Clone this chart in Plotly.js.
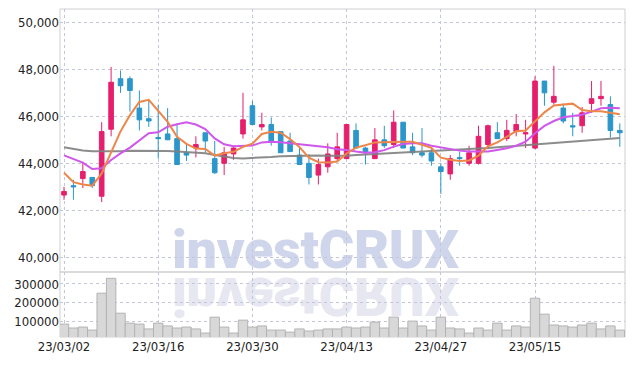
<!DOCTYPE html>
<html>
<head>
<meta charset="utf-8">
<script src="https://cdn.plot.ly/plotly-3.0.1.min.js"></script>
<style>
html,body{margin:0;padding:0;background:#fff;}
#wrap{position:relative;width:634px;height:366px;overflow:hidden;}
#chart{position:absolute;left:0;top:0;width:634px;height:366px;}
.wm{position:absolute;left:172px;font-family:Roboto,'Open Sans',sans-serif;font-weight:900;font-size:54px;line-height:54px;white-space:nowrap;letter-spacing:-0.3px;}
#wm1{top:223px;color:#cfd5ea;}
#wm2{top:223px;color:#e6e7f0;transform:scaleY(-1);transform-origin:0 50px;}
</style>
</head>
<body>
<div id="wrap">
<div class="wm" id="wm1">investCRUX</div>
<div class="wm" id="wm2">investCRUX</div>
<div id="chart"></div>
</div>
<script>
const dates = ["23/03/02","23/03/03","23/03/06","23/03/07","23/03/08","23/03/09","23/03/10","23/03/13","23/03/14","23/03/15",
"23/03/16","23/03/17","23/03/20","23/03/21","23/03/22","23/03/23","23/03/24","23/03/27","23/03/28","23/03/29",
"23/03/30","23/03/31","23/04/03","23/04/04","23/04/05","23/04/06","23/04/07","23/04/10","23/04/11","23/04/12",
"23/04/13","23/04/14","23/04/17","23/04/18","23/04/19","23/04/20","23/04/21","23/04/24","23/04/25","23/04/26",
"23/04/27","23/04/28","23/05/02","23/05/03","23/05/04","23/05/08","23/05/09","23/05/10","23/05/11","23/05/12",
"23/05/15","23/05/16","23/05/17","23/05/18","23/05/19","23/05/22","23/05/23","23/05/24","23/05/25","23/05/26"];

const openP = [42650,43050,43350,43400,42600,45450,47600,47600,46350,45900,
45100,45250,45050,44450,44650,45300,44200,44000,44400,45250,
46450,45550,45650,45350,44950,44350,44000,43500,43850,44200,
44200,45400,44650,44200,45000,44800,45750,44700,44450,44450,
43850,43550,44250,44000,44000,44800,45300,45050,45350,45250,
44650,47500,46600,46350,45600,45600,46550,46750,46500,45400];
const highP = [43000,43300,44050,43400,45750,48100,47950,47700,47100,46650,
46500,46350,45700,44800,45150,45300,44950,44700,44750,47000,
46650,46150,45950,45350,45300,44700,44400,44200,44850,45300,
45650,45700,44700,45500,45600,46250,45750,45300,45500,44650,
44000,44350,44500,44750,45600,45650,45750,45850,46100,45850,
47700,47500,48150,46550,46150,46400,47500,47500,46850,45700];
const lowP = [42450,42450,42950,42950,42350,45150,47000,46200,45400,45550,
44200,45000,43950,44100,44250,44450,43550,43500,44150,45050,
45650,45400,44750,44450,44500,43950,43100,43100,43600,44050,
44200,44650,43950,44200,44650,44650,44650,44350,44250,43900,
42700,43300,43900,43900,43950,44600,45050,44950,45150,44650,
44600,46450,46500,45700,45150,45300,46150,46450,45100,44700];
const closeP = [42800,43000,43650,43050,45350,47450,47300,47100,45850,45800,
45050,45000,43950,44350,44800,44950,43600,44450,44650,45850,
45650,45650,44900,44450,44500,43950,43400,43950,44400,44700,
45650,44650,44450,45000,44750,45750,44650,44450,44350,44100,
43650,44200,44200,44450,45150,45600,45050,45400,45650,45300,
47500,47000,46850,45800,45550,46150,46750,46850,45400,45300];
const volume = [86000,65000,70000,54000,251000,330000,144000,91000,86000,60000,
91000,76000,65000,70000,60000,38000,123000,70000,38000,107000,
70000,76000,54000,54000,43000,60000,49000,54000,60000,60000,
70000,65000,70000,97000,65000,123000,65000,102000,76000,54000,
123000,65000,60000,38000,65000,54000,91000,54000,76000,70000,
224000,139000,81000,76000,70000,81000,91000,60000,76000,54000];
const ma5 = [43600,43200,43100,43050,43570,44500,45360,46050,46610,46700,
46220,45760,45130,44830,44630,44610,44330,44430,44490,44700,
44840,45250,45340,45300,45030,44690,44240,44050,44040,44080,
44420,44670,44770,44890,44900,44920,44920,44920,44790,44660,
44240,44150,44100,44120,44330,44720,44890,45130,45370,45400,
45780,46170,46460,46490,46540,46270,46220,46220,46140,46090];
const ma20 = [44340,44185,44030,43760,43790,44140,44425,44670,44990,45280,
45320,45560,45660,45745,45650,45460,45060,44810,44730,44740,
44760,44890,44920,44900,44860,44790,44750,44720,44680,44600,
44570,44500,44450,44470,44560,44710,44820,44850,44850,44750,
44670,44600,44540,44500,44500,44500,44570,44640,44750,44920,
45280,45590,45800,45960,46010,46070,46200,46340,46360,46340];
const ma60 = [44680,44610,44550,44510,44500,44490,44510,44540,44540,44540,
44530,44520,44500,44480,44450,44425,44355,44285,44230,44210,
44220,44240,44270,44300,44310,44330,44330,44330,44320,44310,
44320,44350,44370,44385,44410,44440,44470,44490,44500,44500,
44530,44550,44570,44590,44620,44650,44680,44710,44750,44790,
44820,44850,44870,44890,44920,44940,44970,45010,45050,45080];

const priceTicks = [40000,42000,44000,46000,48000,50000];
const volTicks = [100000,200000,300000];
const dateTicks = [0,10,20,30,40,50].map(i => dates[i]);

const RED = '#E61F6C', BLUE = '#2B96C9';
const font = {family:"'DejaVu Sans Condensed','Liberation Sans Narrow',sans-serif", size:13, color:'#222222'};

const traces = [
 {type:'bar', x:dates, y:volume, xaxis:'x', yaxis:'y2',
  marker:{color:'#d8d8d8', line:{color:'#b3b3b3', width:1}}, hoverinfo:'skip'},
 {type:'candlestick', x:dates, open:openP, high:highP, low:lowP, close:closeP, xaxis:'x', yaxis:'y',
  increasing:{line:{color:RED,width:1}, fillcolor:RED},
  decreasing:{line:{color:BLUE,width:1}, fillcolor:BLUE},
  whiskerwidth:0},
 {type:'scatter', mode:'lines', x:dates, y:ma60, line:{color:'#808080', width:2}, opacity:0.9},
 {type:'scatter', mode:'lines', x:dates, y:ma20, line:{color:'#CF57EC', width:2}},
 {type:'scatter', mode:'lines', x:dates, y:ma5, line:{color:'#EF8649', width:2}}
];

const layout = {
 width:634, height:366,
 margin:{l:60, r:9, t:9, b:29},
 paper_bgcolor:'rgba(0,0,0,0)', plot_bgcolor:'rgba(0,0,0,0)',
 showlegend:false, bargap:0,
 font:font,
 xaxis:{type:'category', range:[-0.425,59.55], anchor:'y2',
   tickmode:'array', tickvals:dateTicks, ticktext:dateTicks,
   showgrid:true, gridcolor:'#c4c7d9', griddash:'dot', gridwidth:1,
   showline:false, zeroline:false, ticks:'', tickfont:font,
   rangeslider:{visible:false}, fixedrange:true},
 yaxis:{domain:[0.198,1], range:[39374,50566], tickmode:'array', tickvals:priceTicks,
   tickformat:',d', showgrid:true, gridcolor:'#c4c7d9', griddash:'dot',
   zeroline:false, showline:false, ticks:'', tickfont:font},
 yaxis2:{domain:[0,0.198], range:[17000,363700], tickmode:'array', tickvals:volTicks,
   tickformat:'d', showgrid:true, gridcolor:'#c4c7d9', griddash:'dot',
   zeroline:false, showline:false, ticks:'', tickfont:font},
 shapes:[
  {type:'rect', xref:'paper', yref:'paper', x0:0, x1:1, y0:0, y1:1, line:{color:'#cfcfcf', width:1}, layer:'below'},
  {type:'line', xref:'paper', yref:'paper', x0:0, x1:1, y0:0.198, y1:0.198, line:{color:'#cfcfcf', width:1.5}, layer:'below'}
 ]
};

Plotly.newPlot('chart', traces, layout, {displayModeBar:false, staticPlot:true});
</script>
</body>
</html>
